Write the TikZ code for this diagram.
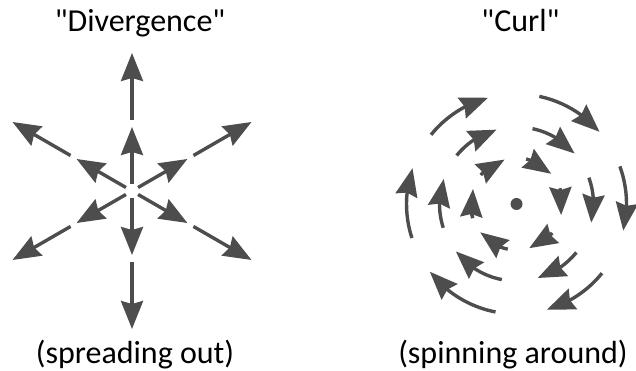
\documentclass[tikz,border=0pt]{standalone}
\usepackage{fontspec}
\setmainfont{Carlito}
\usetikzlibrary{arrows.meta,bending}
\definecolor{arr}{HTML}{4D4D4D}
\newcommand{\dq}{\XeTeXglyph\the\XeTeXcharglyph"22\relax}
\begin{document}
\begin{tikzpicture}[x=1pt,y=1pt,
  vec/.style={arr, line width=3.4pt, -{Stealth[length=28pt,width=22pt,inset=3pt,flex]}},
  lbl/.style={anchor=base, inner sep=0pt, font=\fontsize{32}{38}\selectfont}]
\useasboundingbox (0,0) rectangle (636,371);
% Divergence
\coordinate (D) at (132,180);
\foreach \a in {90,30,-30,-90,150,210} {
  \draw[vec, shift={(D)}] (\a:7) -- (\a:64);
  \draw[vec, shift={(D)}] (\a:71) -- (\a:138);
}
% Curl
\coordinate (C) at (516.5,167);
\fill[arr] (C) circle (6);
\foreach \s/\e in {141/105, 78/41, 20/-14, -39/-74, -101/-142, -162/-199} {
  \foreach \r in {46,77,110} {
    \draw[vec, shift={(C)}] (\s:\r) arc[start angle=\s, end angle=\e, radius=\r];
  }
}
% Labels
\node[lbl] (tdiv) at (140,339) {\dq Divergence\dq};
\node[lbl] (tcurl) at (520.5,339) {\dq Curl\dq};
\node[lbl] (bdiv) at (135,7) {(spreading out)};
\node[lbl] (bcurl) at (513,7) {(spinning around)};
\end{tikzpicture}
\end{document}
